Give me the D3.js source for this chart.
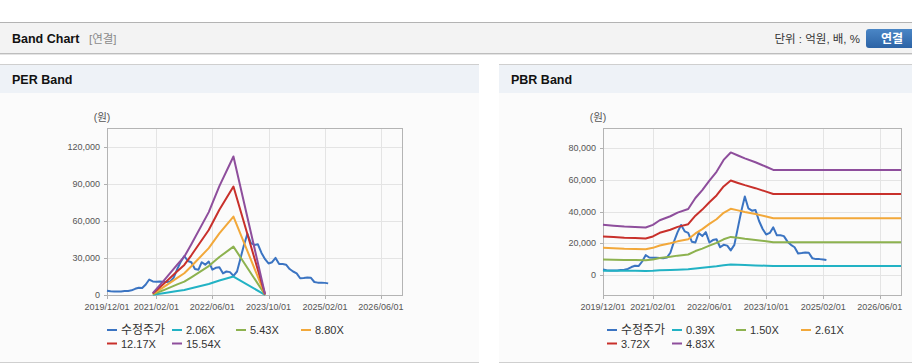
<!DOCTYPE html>
<html lang="ko">
<head>
<meta charset="UTF-8">
<title>Band Chart</title>
<style>
  body { margin: 0; width: 912px; height: 364px; overflow: hidden; background: #fff; }
  svg text { font-family: "Liberation Sans", Arial, "Noto Sans CJK KR", sans-serif; }
</style>
</head>
<body>
<script src="https://cdn.jsdelivr.net/npm/d3@7"></script>
<script>
// ---- data ----
const parse = d3.timeParse("%Y/%m/%d");

// monthly adjusted price (수정주가), 2019/12 .. 2025/03
const priceStart = "2019/12/01";
const priceValues = [
  3500, 3000, 2800, 2800, 2900, 3200, 3300, 3800, 5000, 5800, 5600, 8500,
  12500, 11000, 10800, 10900, 10700, 10600, 11000, 14000, 21000, 27000, 31500, 27500,
  26500, 21000, 20500, 26500, 24500, 27000, 20500, 22000, 22500, 17500, 19000, 18500,
  15500, 19000, 30000, 40000, 49500, 42000, 40500, 41000, 34000, 29000, 25500, 26500,
  30000, 25000, 25000, 24500, 21000, 19000, 17500, 13500, 13800, 14200, 14000, 10500,
  10000, 10000, 9800, 9400
];

// PER band
const perDates = ["2021/01/01", "2021/04/01", "2021/08/01", "2021/10/01", "2021/12/01",
                  "2022/05/01", "2022/08/01", "2022/12/01", "2023/09/01"];
const perNames = ["2.06X", "5.43X", "8.80X", "12.17X", "15.54X"];
const per206 = [200, 1500, 3200, 4100, 5400, 8900, 11700, 14900, 100];
const per543 = [500, 3800, 8600, 10800, 14300, 23400, 30700, 39100, 200];
const per880 = [800, 6200, 13900, 17600, 23200, 37900, 49800, 63400, 300];
const per1217 = [1200, 8600, 19200, 24300, 32100, 52500, 68900, 87700, 500];
const per1554 = [1500, 11000, 24500, 31000, 41000, 67000, 88000, 112000, 600];

// PBR band
const pbrDates = ["2019/12/01", "2020/03/01", "2020/06/01", "2020/09/01", "2020/12/01", "2021/02/01",
                  "2021/04/01", "2021/07/01", "2021/09/01", "2021/12/01", "2022/02/01", "2022/04/01",
                  "2022/06/01", "2022/08/01", "2022/10/01", "2022/12/01", "2023/02/01", "2023/04/01",
                  "2023/07/01", "2023/10/01", "2023/12/01", "2026/12/01"];
const pbrNames = ["0.39X", "1.50X", "2.61X", "3.72X", "4.83X"];
const pbr039 = [2700, 2650, 2600, 2600, 2550, 2700, 2950, 3150, 3350, 3550, 4150, 4550,
                5050, 5550, 6150, 6550, 6400, 6250, 6050, 5850, 5700, 5700];
const pbr150 = [9800, 9600, 9500, 9400, 9300, 9800, 10700, 11500, 12200, 12900, 15100, 16600,
                18500, 20200, 22500, 24000, 23400, 22800, 22100, 21200, 20600, 20600];
const pbr261 = [17100, 16800, 16500, 16400, 16200, 17100, 18600, 20000, 21200, 22500, 26200, 28900,
                32200, 35100, 39200, 41700, 40700, 39700, 38400, 36900, 35800, 35800];
const pbr372 = [24300, 23900, 23500, 23300, 23000, 24300, 26600, 28500, 30300, 32000, 37400, 41200,
                45800, 50100, 55800, 59500, 58000, 56600, 54700, 52500, 51000, 51000];
const pbr483 = [31600, 31000, 30500, 30300, 29900, 31600, 34500, 37000, 39300, 41600, 48500, 53500,
                59500, 65000, 72500, 77200, 75300, 73500, 71000, 68200, 66200, 66200];

const xTicks = ["2019/12/01", "2021/02/01", "2022/06/01", "2023/10/01", "2025/02/01", "2026/06/01"];
const xRange = ["2019/12/01", "2026/12/01"];
const perTicks = [0, 30000, 60000, 90000, 120000];
const pbrTicks = [0, 20000, 40000, 60000, 80000];

const priceName = "수정주가";
const colors = ["#3b74c2", "#22b2c4", "#8db24f", "#f2a83a", "#c8302b", "#8e4e9c"];

// ---- page ----
const W = 912, H = 364;
const svg = d3.select("body").append("svg").attr("width", W).attr("height", H);

// top header bar
svg.append("rect").attr("x", 0).attr("y", 22).attr("width", W).attr("height", 32).attr("fill", "#f3f3f3");
svg.append("line").attr("x1", 0).attr("x2", W).attr("y1", 22.5).attr("y2", 22.5).attr("stroke", "#b3b3b3");
svg.append("line").attr("x1", 0).attr("x2", W).attr("y1", 53.5).attr("y2", 53.5).attr("stroke", "#bdbdbd");
svg.append("line").attr("x1", 0).attr("x2", W).attr("y1", 54.5).attr("y2", 54.5).attr("stroke", "#e4e4e4");
svg.append("text").attr("x", 12).attr("y", 43).attr("font-size", 12.5).attr("font-weight", "bold")
   .attr("fill", "#111").text("Band Chart");
svg.append("text").attr("x", 89).attr("y", 43).attr("font-size", 11.5).attr("fill", "#8a8a8a").text("[연결]");
svg.append("text").attr("x", 860).attr("y", 43).attr("font-size", 11.5).attr("fill", "#333")
   .attr("text-anchor", "end").text("단위 : 억원, 배, %");

const grad = svg.append("defs").append("linearGradient").attr("id", "btn")
   .attr("x1", 0).attr("x2", 0).attr("y1", 0).attr("y2", 1);
grad.append("stop").attr("offset", "0%").attr("stop-color", "#4a86c6");
grad.append("stop").attr("offset", "100%").attr("stop-color", "#2c63a5");
svg.append("rect").attr("x", 866).attr("y", 29).attr("width", 52).attr("height", 19).attr("rx", 3)
   .attr("fill", "url(#btn)");
svg.append("text").attr("x", 892).attr("y", 43).attr("font-size", 12).attr("font-weight", "bold")
   .attr("fill", "#fff").attr("text-anchor", "middle").text("연결");

function panel(x, w, title) {
  svg.append("rect").attr("x", x).attr("y", 65).attr("width", w).attr("height", 28).attr("fill", "#eef2f7");
  svg.append("rect").attr("x", x).attr("y", 93).attr("width", w).attr("height", 269).attr("fill", "#fbfbfb");
  svg.append("line").attr("x1", x).attr("x2", x + w).attr("y1", 64.5).attr("y2", 64.5).attr("stroke", "#cfcfcf");
  svg.append("line").attr("x1", x).attr("x2", x + w).attr("y1", 362.5).attr("y2", 362.5).attr("stroke", "#cfcfcf");
  svg.append("text").attr("x", x + 12).attr("y", 84).attr("font-size", 12.5).attr("font-weight", "bold")
     .attr("fill", "#111").text(title);
}
panel(0, 479, "PER Band");
panel(499, 413, "PBR Band");

function chart(box, yDomain, yTicks, names, bands, bandDates) {
  const g = svg.append("g");
  const x = d3.scaleTime().domain(xRange.map(parse)).range([box.x0, box.x1]);
  const y = d3.scaleLinear().domain(yDomain).range([box.y1, box.y0]);

  // grid
  g.selectAll(".gy").data(yTicks).enter().append("line")
    .attr("x1", box.x0 - 3).attr("x2", box.x1)
    .attr("y1", d => Math.round(y(d)) + 0.5).attr("y2", d => Math.round(y(d)) + 0.5)
    .attr("stroke", "#e4e4e4");
  g.selectAll(".gyt").data(yTicks).enter().append("line")
    .attr("x1", box.x0 - 3).attr("x2", box.x0)
    .attr("y1", d => Math.round(y(d)) + 0.5).attr("y2", d => Math.round(y(d)) + 0.5)
    .attr("stroke", "#b0b0b0");
  g.selectAll(".gx").data(xTicks.map(parse)).enter().append("line")
    .attr("x1", d => Math.round(x(d)) + 0.5).attr("x2", d => Math.round(x(d)) + 0.5)
    .attr("y1", box.y0).attr("y2", box.y1 + 4)
    .attr("stroke", "#e4e4e4");
  g.selectAll(".gxt").data(xTicks.map(parse)).enter().append("line")
    .attr("x1", d => Math.round(x(d)) + 0.5).attr("x2", d => Math.round(x(d)) + 0.5)
    .attr("y1", box.y1).attr("y2", box.y1 + 4)
    .attr("stroke", "#b0b0b0");

  // frame
  g.append("rect").attr("x", box.x0 + 0.5).attr("y", box.y0 + 0.5)
    .attr("width", box.x1 - box.x0).attr("height", box.y1 - box.y0)
    .attr("fill", "none").attr("stroke", "#b4b4b4");

  // labels
  g.selectAll(".ly").data(yTicks).enter().append("text")
    .attr("x", box.x0 - 7).attr("y", d => y(d)).attr("dy", "0.35em")
    .attr("text-anchor", "end").attr("font-size", 9).attr("fill", "#555")
    .text(d3.format(","));
  g.selectAll(".lx").data(xTicks.map(parse)).enter().append("text")
    .attr("x", d => x(d)).attr("y", box.y1 + 15)
    .attr("text-anchor", "middle").attr("font-size", 9).attr("fill", "#555")
    .text(d3.timeFormat("%Y/%m/%d"));
  g.append("text").attr("x", box.x0 - 5).attr("y", 121).attr("font-size", 10.5)
    .attr("fill", "#555").attr("text-anchor", "middle").text("(원)");

  // lines
  const line = d3.line().x(d => x(d[0])).y(d => y(d[1]));
  const months = d3.timeMonth.range(parse(priceStart), d3.timeMonth.offset(parse(priceStart), priceValues.length));
  const series = [months.map((m, i) => [m, priceValues[i]])]
    .concat(bands.map(b => bandDates.map((d, i) => [parse(d), b[i]])));
  g.selectAll(".s").data(series).enter().append("path")
    .attr("d", line).attr("fill", "none")
    .attr("stroke", (d, i) => colors[i]).attr("stroke-width", 2)
    .attr("stroke-linejoin", "round");

  // legend
  const items = [priceName].concat(names);
  const lx = [0, 65, 129, 194].map(v => v + box.legend);
  const lg = g.selectAll(".lg").data(items).enter().append("g")
    .attr("transform", (d, i) => `translate(${lx[i % 4]},${i < 4 ? 330 : 343.5})`);
  lg.append("line").attr("x1", 0).attr("x2", 10).attr("y1", 0).attr("y2", 0)
    .attr("stroke", (d, i) => colors[i]).attr("stroke-width", 2);
  lg.append("text").attr("x", 14).attr("y", 4).attr("font-size", d => d === priceName ? 12 : 11)
    .attr("fill", "#333").text(d => d);
}

chart({x0: 107, x1: 402, y0: 128, y1: 295, legend: 107}, [0, 135000], perTicks, perNames,
      [per206, per543, per880, per1217, per1554], perDates);
chart({x0: 603, x1: 901, y0: 128, y1: 295, legend: 607}, [-12600, 92600], pbrTicks, pbrNames,
      [pbr039, pbr150, pbr261, pbr372, pbr483], pbrDates);
</script>
</body>
</html>
